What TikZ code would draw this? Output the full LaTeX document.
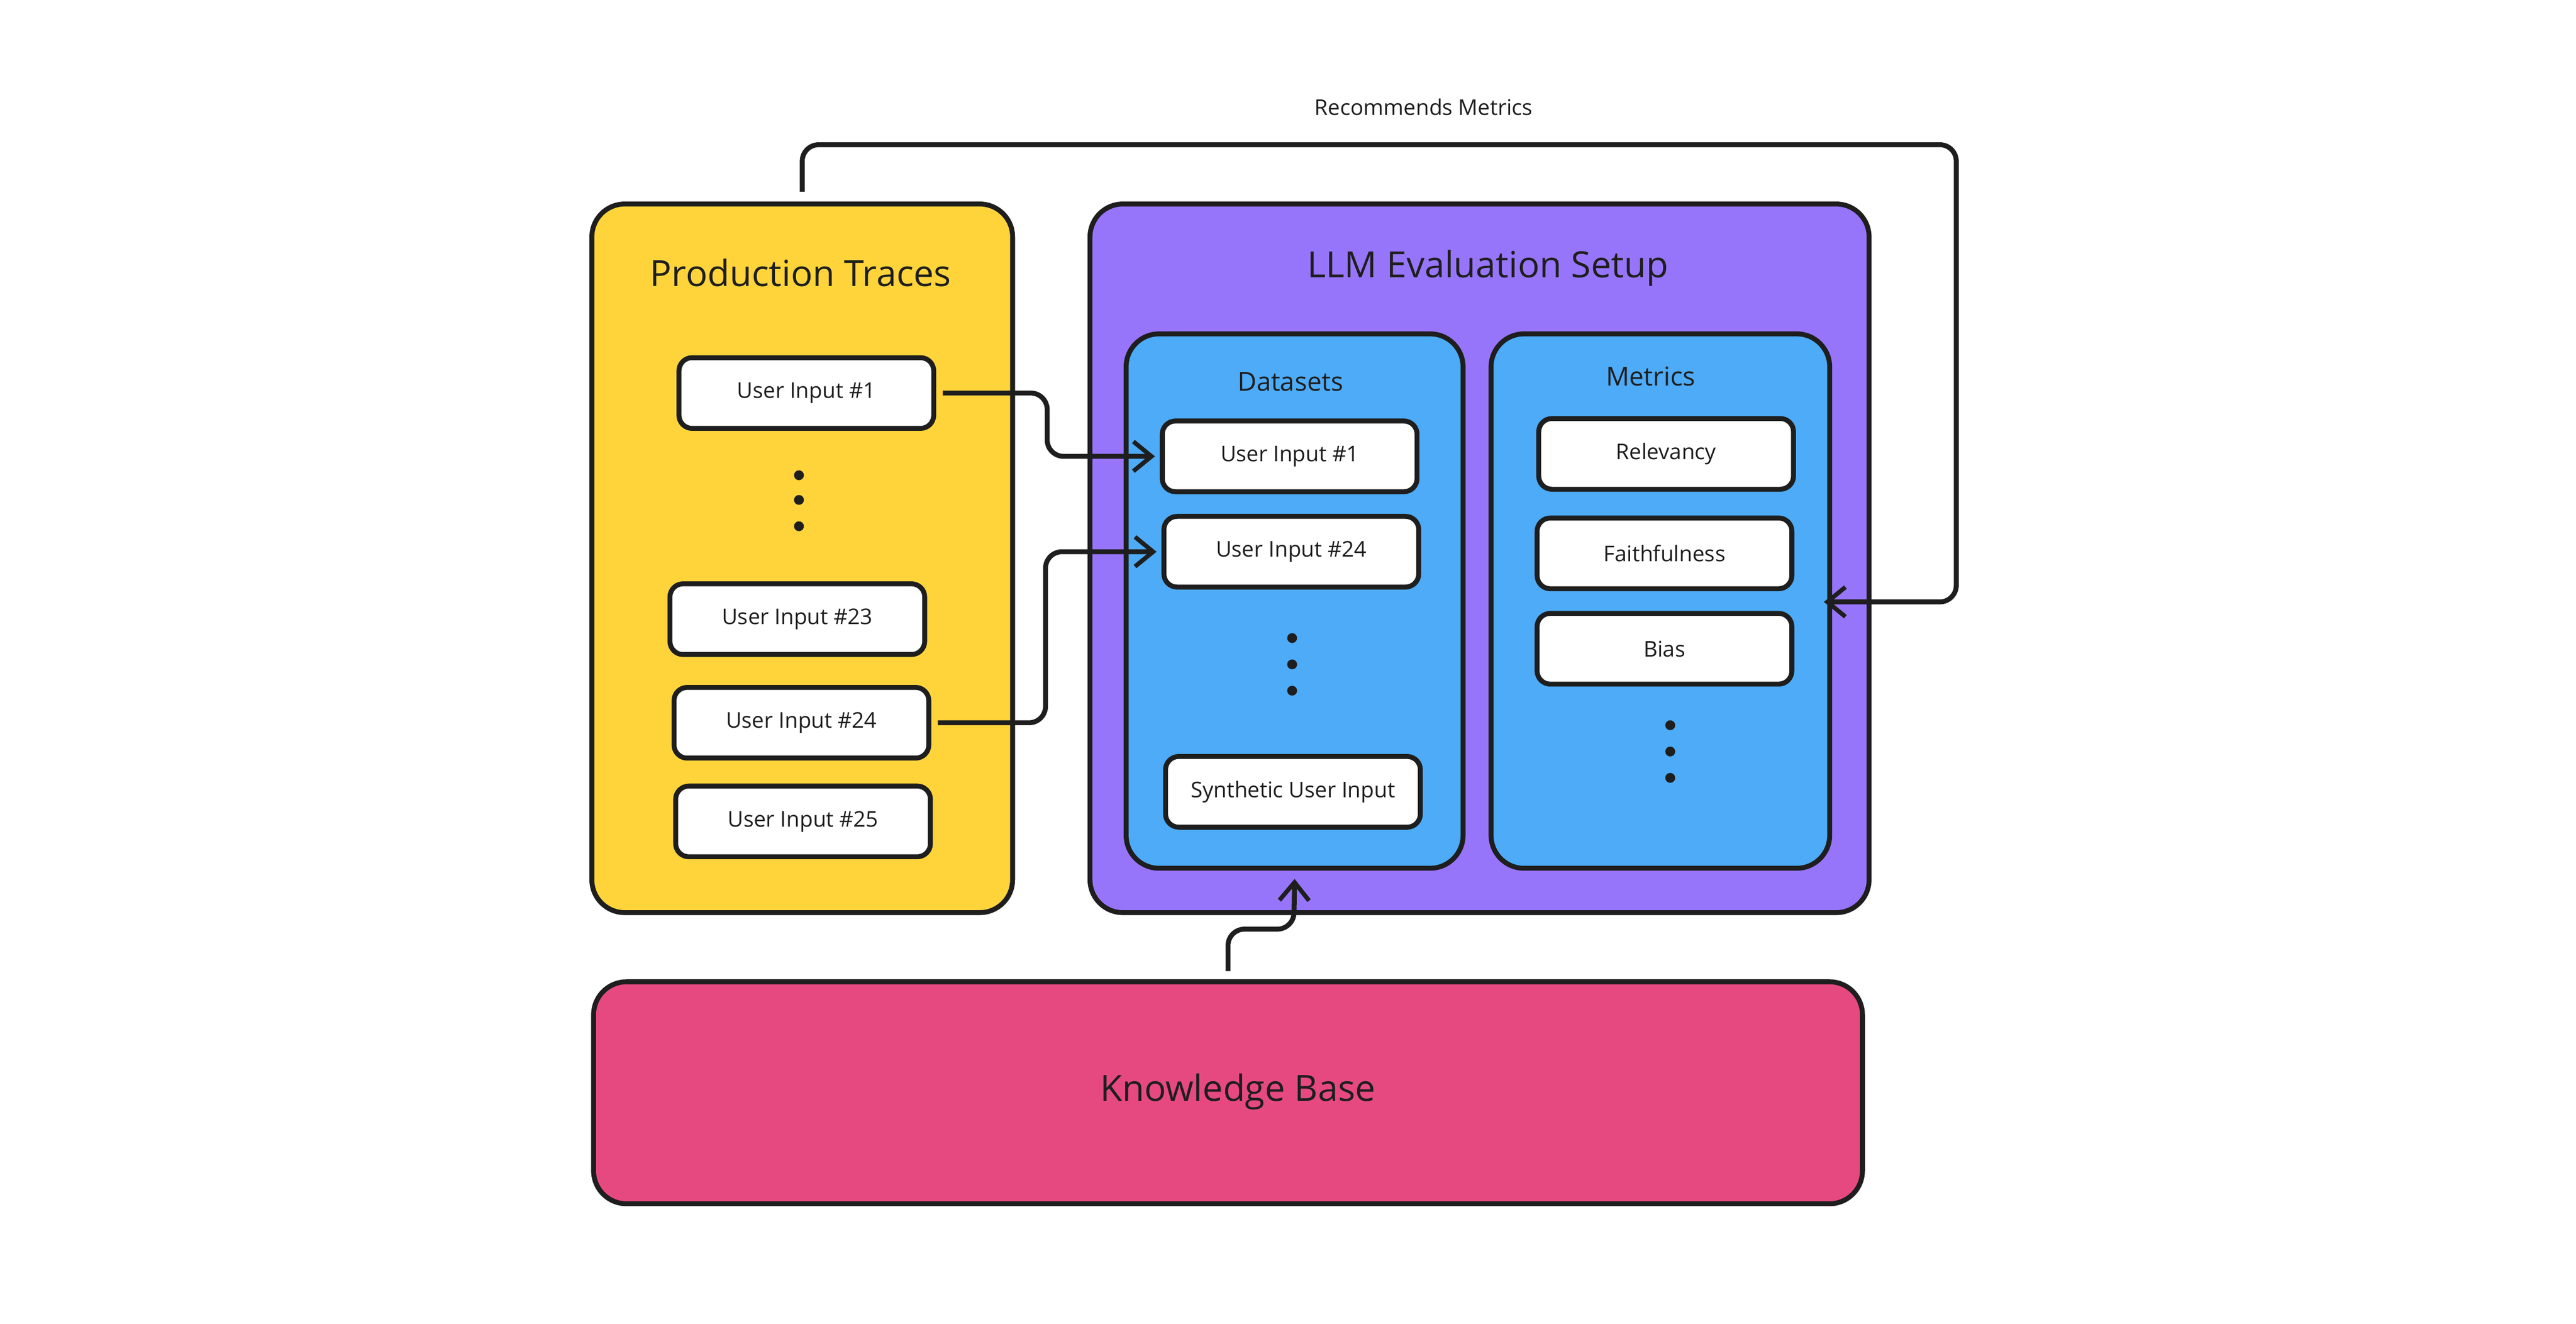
\documentclass[tikz,border=0pt]{standalone}
\usepackage{fontspec}
\setmainfont{Open Sans}
\usetikzlibrary{arrows.meta}
\definecolor{cy}{HTML}{FFD43B}
\definecolor{cp}{HTML}{9775FA}
\definecolor{cb}{HTML}{4DABF7}
\definecolor{ck}{HTML}{E64980}
\definecolor{ln}{HTML}{1E1E1E}
\begin{document}
\begin{tikzpicture}[x=0.02cm,y=-0.02cm,
  big/.style={draw=ln,line width=1.7pt,rounded corners=0.4cm,inner sep=0},
  sm/.style={draw=ln,fill=white,line width=1.7pt,rounded corners=0.16cm,minimum width=3.1cm,minimum height=0.86cm,font=\fontsize{7.5}{9}\selectfont,text=ln},
  ttl/.style={font=\fontsize{12.5}{15}\selectfont,text=ln},
  sttl/.style={font=\fontsize{9}{11}\selectfont,text=ln},
  dot/.style={circle,fill=ln,inner sep=0,minimum size=0.12cm},
  arr/.style={draw=ln,line width=1.7pt,rounded corners=0.2cm,-{Straight Barb[length=0.22cm,width=0.36cm,line width=1.5pt]}}]
\useasboundingbox[fill=white] (0,0) rectangle (1567,805);
\node[big,fill=cy,minimum width=5.12cm,minimum height=8.62cm] (pt) at (488,339.5) {};
\node[ttl] (ptt) at (487,166) {Production Traces};
\node[big,fill=cp,minimum width=9.48cm,minimum height=8.62cm] (llm) at (900,339.5) {};
\node[ttl] (llmt) at (905,163) {LLM Evaluation Setup};
\node[big,fill=cb,minimum width=4.10cm,minimum height=6.5cm] (ds) at (787.5,365.5) {};
\node[sttl] (dst) at (785,232) {Datasets};
\node[big,fill=cb,minimum width=4.12cm,minimum height=6.5cm] (met) at (1010,365.5) {};
\node[sttl] (mett) at (1004,229) {Metrics};
\node[big,fill=ck,minimum width=15.44cm,minimum height=2.7cm] (kb) at (747,664.5) {};
\node[ttl] (kbt) at (753,664) {Knowledge Base};
\node[sm] (u1) at (490.5,239) {User Input \#1};
\node[sm] (u23) at (485,376.5) {User Input \#23};
\node[sm] (u24) at (487.5,439.5) {User Input \#24};
\node[sm] (u25) at (488.5,499.5) {User Input \#25};
\node[sm] (d1) at (784.5,277.5) {User Input \#1};
\node[sm] (d24) at (785.5,335.5) {User Input \#24};
\node[sm] (syn) at (786.5,481.5) {Synthetic User Input};
\node[sm] (rel) at (1013.5,276) {Relevancy};
\node[sm] (fai) at (1012.5,336.5) {Faithfulness};
\node[sm] (bia) at (1012.5,394.5) {Bias};
\foreach \y [count=\i] in {289,304,320} \node[dot] (pa\i) at (486,\y) {};
\foreach \y [count=\i] in {388,404,420} \node[dot] (da\i) at (786,\y) {};
\foreach \y [count=\i] in {441,457,473} \node[dot] (ma\i) at (1016,\y) {};
\node[font=\fontsize{7.5}{9}\selectfont,text=ln] (rm) at (866,65) {Recommends Metrics};
\draw[arr] ([xshift=0.08cm]u1.east) -- (637,239) -- (637,277.5) -- ([xshift=-0.06cm]d1.west);
\draw[arr] ([xshift=0.08cm]u24.east) -- (636,439.5) -- (636,335.5) -- ([xshift=-0.06cm]d24.west);
\draw[arr] ([yshift=0.1cm]kb.north) -- (747,565) -- (787,565) -- ([yshift=-0.1cm]ds.south);
\draw[arr] ([yshift=0.12cm]pt.north) -- (488,88) -- (1190,88) -- (1190,366) -- ([xshift=-0.1cm]met.east |- 0,366);
\end{tikzpicture}
\end{document}
